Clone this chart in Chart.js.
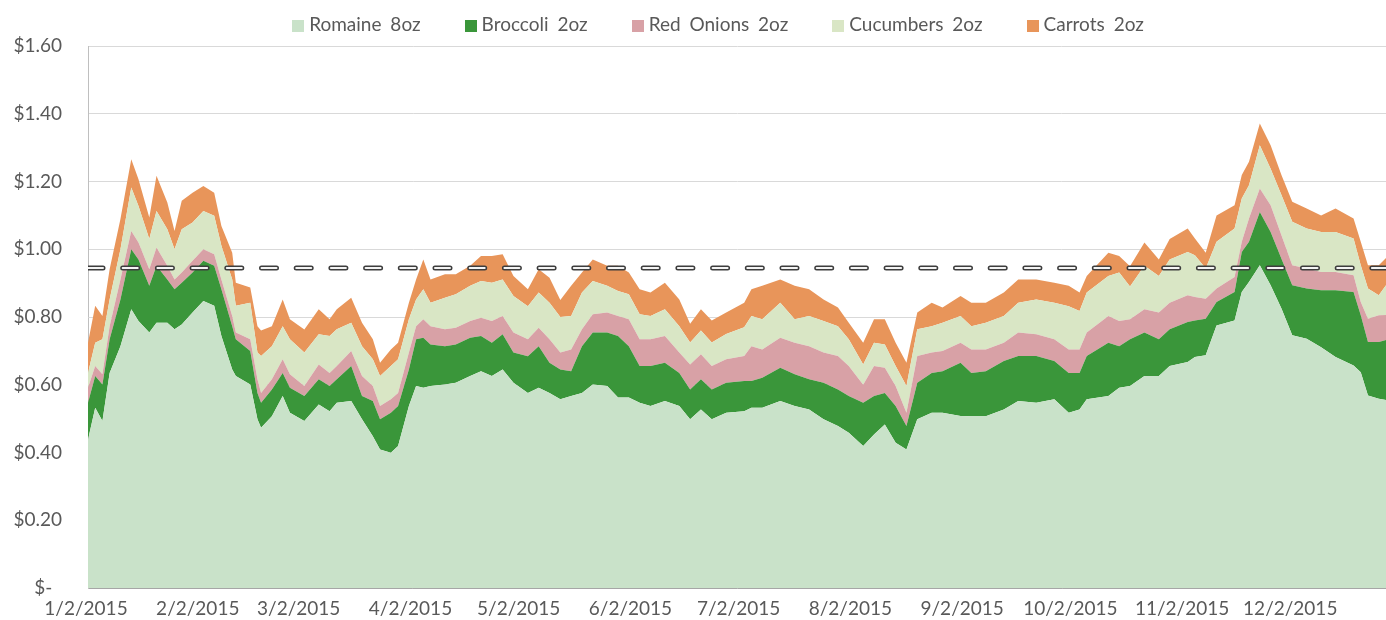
<!DOCTYPE html>
<html>
<head>
<meta charset="utf-8">
<title>Salad produce cost 2015</title>
<script src="https://cdn.jsdelivr.net/npm/chart.js"></script>
<style>
    body { margin: 0; background: #fff; font-family: Lato, sans-serif; }
    .wrap { position: relative; width: 1386px; height: 620px; }
    #legend {
        position: absolute; top: 13px; left: 0; width: 1386px; box-sizing: border-box; padding-left: 50px;
        display: flex; justify-content: center; gap: 44px;
        font-size: 19px; line-height: 22px; color: #595959; word-spacing: 4px;
    }
    #legend .box { display: inline-block; width: 12px; height: 12px; margin-right: 5px; vertical-align: -1px; }
</style>
</head>
<body>
<div class="wrap">
    <canvas id="produceChart" width="1386" height="620"></canvas>
    <div id="legend"></div>
</div>

<script>
    // x = days after 1/2/2015
    const days = [0,2,4,6,9,12,14,17,19,22,24,26,29,32,35,37,40,41,45,47,48,51,54,56,60,64,67,69,73,76,79,81,84,86,89,91,93,95,99,102,106,109,112,115,118,122,125,128,131,134,137,140,144,147,150,153,156,160,164,167,170,173,177,182,184,187,192,196,200,204,208,211,215,218,221,224,227,230,234,237,242,245,249,254,258,263,268,272,275,277,283,286,289,293,297,300,305,307,310,313,318,320,322,325,328,331,334,338,342,346,351,353,355,358,360];

    const romaine = [.438,.532,.493,.635,.714,.823,.788,.754,.783,.783,.764,.778,.813,.847,.833,.744,.645,.626,.601,.498,.473,.507,.567,.517,.493,.542,.522,.547,.552,.498,.448,.409,.399,.419,.537,.596,.591,.596,.601,.606,.626,.640,.626,.645,.606,.576,.591,.576,.557,.567,.576,.601,.596,.562,.562,.547,.537,.552,.537,.498,.527,.498,.517,.522,.532,.532,.552,.537,.527,.498,.478,.458,.419,.453,.483,.429,.409,.498,.517,.517,.508,.507,.507,.527,.552,.547,.557,.517,.527,.557,.567,.591,.596,.626,.626,.655,.667,.682,.687,.775,.790,.874,.903,.953,.894,.825,.746,.736,.711,.682,.657,.637,.568,.559,.555];
    const broccoli = [.109,.094,.108,.099,.138,.177,.182,.138,.168,.128,.118,.123,.118,.119,.118,.138,.128,.108,.099,.078,.074,.079,.068,.074,.074,.074,.074,.069,.103,.069,.104,.089,.118,.118,.108,.138,.148,.123,.113,.113,.113,.104,.098,.104,.089,.108,.123,.089,.088,.073,.138,.153,.158,.182,.152,.108,.118,.113,.098,.088,.089,.088,.089,.089,.079,.089,.098,.094,.089,.108,.108,.109,.128,.114,.093,.108,.069,.108,.118,.123,.157,.128,.133,.143,.133,.138,.113,.118,.108,.128,.157,.123,.138,.128,.108,.109,.118,.108,.108,.069,.084,.118,.119,.157,.157,.147,.148,.148,.168,.197,.217,.168,.158,.167,.177];
    const redOnions = [.044,.029,.030,.039,.059,.054,.050,.049,.054,.040,.029,.030,.035,.034,.034,.029,.030,.020,.034,.040,.029,.030,.040,.040,.029,.044,.039,.039,.045,.059,.044,.039,.040,.039,.050,.039,.054,.054,.050,.049,.049,.054,.064,.054,.059,.050,.054,.069,.050,.064,.050,.054,.059,.059,.079,.079,.079,.079,.060,.074,.074,.069,.069,.074,.103,.083,.089,.093,.098,.089,.099,.088,.053,.088,.074,.059,.039,.079,.060,.060,.059,.069,.064,.054,.069,.064,.064,.069,.069,.069,.079,.074,.059,.069,.079,.078,.079,.069,.059,.040,.044,.030,.069,.069,.079,.069,.059,.059,.054,.054,.049,.039,.069,.079,.074];
    const cucumbers = [.044,.069,.103,.079,.089,.128,.108,.089,.108,.108,.089,.128,.113,.113,.114,.099,.108,.079,.108,.079,.109,.098,.098,.103,.099,.089,.109,.109,.083,.088,.079,.089,.098,.099,.098,.079,.089,.069,.093,.099,.104,.108,.113,.108,.108,.098,.104,.108,.105,.099,.108,.098,.079,.074,.074,.074,.069,.079,.078,.065,.070,.070,.075,.085,.089,.089,.103,.069,.089,.093,.088,.079,.060,.069,.069,.059,.079,.079,.078,.083,.079,.069,.079,.079,.088,.103,.108,.128,.114,.118,.118,.143,.097,.128,.108,.128,.128,.123,.089,.138,.143,.128,.098,.128,.108,.119,.128,.118,.118,.118,.109,.109,.089,.059,.088];
    const carrots = [.089,.109,.069,.089,.089,.084,.079,.064,.104,.079,.054,.084,.088,.074,.068,.059,.079,.068,.045,.078,.075,.059,.079,.059,.068,.074,.049,.059,.074,.069,.059,.039,.049,.049,.049,.059,.088,.069,.069,.059,.059,.074,.079,.074,.059,.050,.069,.074,.050,.089,.059,.064,.059,.074,.064,.074,.069,.078,.079,.055,.063,.065,.063,.072,.079,.099,.069,.099,.079,.064,.055,.049,.064,.069,.074,.069,.069,.049,.069,.045,.059,.069,.059,.069,.069,.059,.059,.060,.054,.049,.069,.049,.060,.069,.049,.060,.069,.050,.047,.078,.069,.069,.069,.064,.069,.059,.059,.059,.049,.069,.059,.069,.069,.089,.080];

    const averageCost = 0.945;

    const tickDays = [0, 31, 59, 90, 120, 151, 181, 212, 243, 273, 304, 334];
    const tickLabels = ['1/2/2015', '2/2/2015', '3/2/2015', '4/2/2015', '5/2/2015', '6/2/2015',
                        '7/2/2015', '8/2/2015', '9/2/2015', '10/2/2015', '11/2/2015', '12/2/2015'];

    const series = [
        { name: 'Romaine 8oz', values: romaine, color: '#c9e2c9' },
        { name: 'Broccoli 2oz', values: broccoli, color: '#3a963a' },
        { name: 'Red Onions 2oz', values: redOnions, color: '#d8a1a6' },
        { name: 'Cucumbers 2oz', values: cucumbers, color: '#d9e6c5' },
        { name: 'Carrots 2oz', values: carrots, color: '#e8955a' }
    ];

    Chart.defaults.font.family = 'Lato';
    Chart.defaults.font.size = 19;
    Chart.defaults.color = '#595959';

    const toPoints = vals => vals.map((v, i) => ({ x: days[i], y: v }));
    const avgPoints = [{ x: days[0], y: averageCost }, { x: days[days.length - 1], y: averageCost }];

    const datasets = series.map((s, i) => ({
        label: s.name,
        data: toPoints(s.values),
        backgroundColor: s.color,
        borderWidth: 0,
        fill: i === 0 ? 'origin' : '-1',
        pointRadius: 0
    }));

    // dashed average line: dark outline + white core
    datasets.push({
        label: 'avg-outline', data: avgPoints, stack: 'avg1', order: -1,
        borderColor: '#3d3d3d', borderWidth: 5, borderDash: [15, 19.7], borderCapStyle: 'round',
        fill: false, pointRadius: 0
    });
    datasets.push({
        label: 'avg-core', data: avgPoints, stack: 'avg2', order: -2,
        borderColor: '#f4f4f4', borderWidth: 2, borderDash: [15, 19.7], borderCapStyle: 'round',
        fill: false, pointRadius: 0
    });

    new Chart(document.getElementById('produceChart'), {
        type: 'line',
        data: { datasets },
        options: {
            responsive: false,
            animation: false,
            layout: { padding: { top: 46, right: 0, bottom: 0, left: 0 } },
            elements: { line: { tension: 0 } },
            plugins: { legend: { display: false }, tooltip: { enabled: false } },
            scales: {
                x: {
                    type: 'linear', min: 0, max: 360,
                    afterFit: s => { s.height = 32; },
                    grid: { display: false, drawTicks: false },
                    border: { color: '#a6a6a6' },
                    afterBuildTicks: s => { s.ticks = tickDays.map(v => ({ value: v })); },
                    ticks: { autoSkip: false, maxRotation: 0, padding: 9, labelOffset: -2,
                             callback: (v, i) => tickLabels[i] }
                },
                y: {
                    stacked: true, min: 0, max: 1.6,
                    // fixed axis width; keep the big label gap from pushing the plot up
                    afterFit: s => { s.width = 88; s.paddingTop = 12; s.paddingBottom = 12; },
                    grid: { color: '#d9d9d9', drawTicks: false },
                    border: { color: '#bfbfbf' },
                    ticks: { stepSize: 0.2, padding: 26,
                             callback: v => v === 0 ? '$-  ' : '$' + v.toFixed(2) }
                }
            }
        }
    });

    // legend
    const legend = document.getElementById('legend');
    series.forEach(s => {
        const item = document.createElement('span');
        item.innerHTML = '<span class="box" style="background:' + s.color + '"></span>' + s.name;
        legend.appendChild(item);
    });
</script>
</body>
</html>
